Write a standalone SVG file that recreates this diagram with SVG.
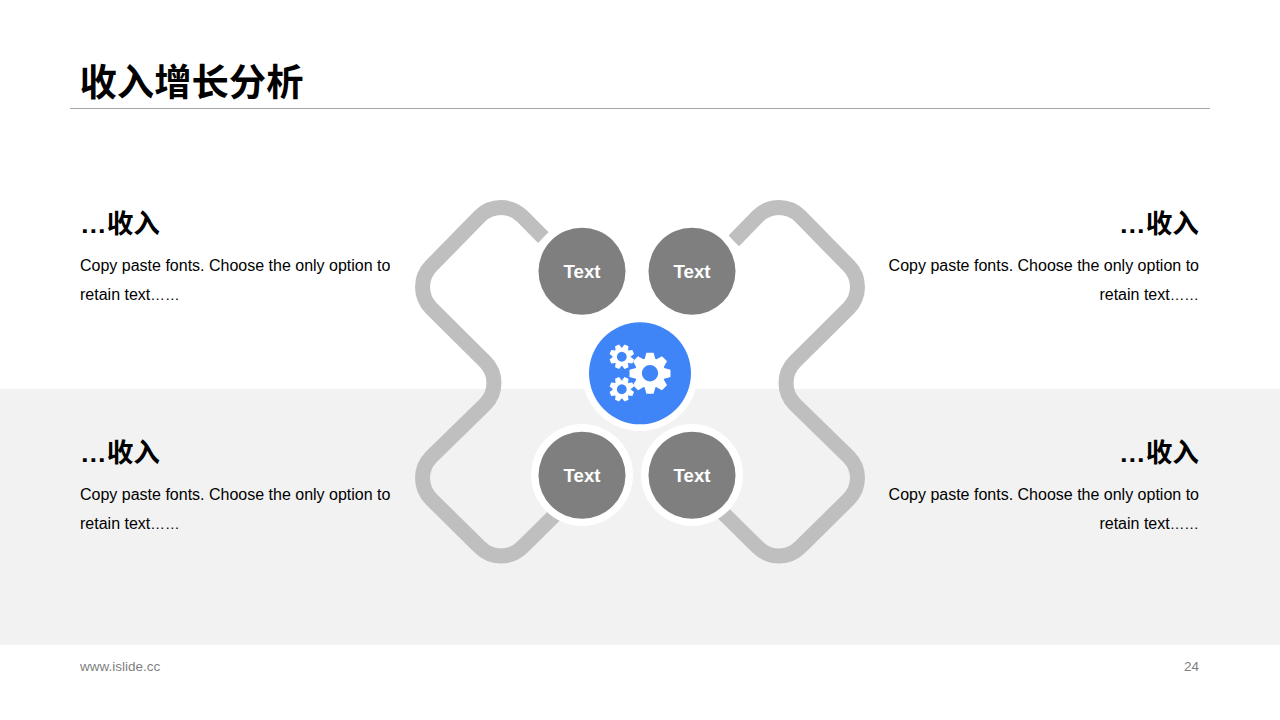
<svg xmlns="http://www.w3.org/2000/svg" xmlns:xlink="http://www.w3.org/1999/xlink" width="1280" height="720" viewBox="0 0 1280 720">
<style>
text{font-family:"Liberation Sans",Arial,sans-serif}
.title{font-family:"Noto Sans CJK SC",sans-serif;font-weight:700;font-size:37.33px;fill:#000}
.head{font-family:"Noto Sans CJK SC",sans-serif;font-weight:700;font-size:26.67px;fill:#000}
.dots{font-family:"Liberation Sans",Arial,sans-serif}
.body{font-size:16px;fill:#000}
.el{font-size:14.67px}
.foot{font-size:13.5px;fill:#7f7f7f}
.r{text-anchor:end}
.link{fill:none;stroke:#bfbfbf;stroke-width:15}
.ring{fill:#fff}
.disc{fill:#7f7f7f}
.lab{font-size:18.67px;font-weight:700;fill:#fff;text-anchor:middle}
.tooth{fill:#fff}
</style>
<defs>
<path id="tooth" class="tooth" d="M-5.4,-14 L-3.6,-20.5 H3.6 L5.4,-14Z"/>
<g id="gear">
<circle r="11.7" fill="none" stroke="#fff" stroke-width="7"/>
<use xlink:href="#tooth" href="#tooth"/>
<use xlink:href="#tooth" href="#tooth" transform="rotate(45)"/>
<use xlink:href="#tooth" href="#tooth" transform="rotate(90)"/>
<use xlink:href="#tooth" href="#tooth" transform="rotate(135)"/>
<use xlink:href="#tooth" href="#tooth" transform="rotate(180)"/>
<use xlink:href="#tooth" href="#tooth" transform="rotate(225)"/>
<use xlink:href="#tooth" href="#tooth" transform="rotate(270)"/>
<use xlink:href="#tooth" href="#tooth" transform="rotate(315)"/>
</g>
</defs>
<rect width="1280" height="720" fill="#fff"/>
<rect x="0" y="389" width="1280" height="256" fill="#f2f2f2"/>
<text class="title" x="79.5" y="95.5">收入增长分析</text>
<rect x="70" y="108" width="1140" height="1" fill="#a6a6a6"/>
<g id="connectors">
<path id="link-left" class="link" d="M543.4,237.6 L522.2,216.3 A30,30 0 0 0 479.8,216.3 L431.3,265.8 A30,30 0 0 0 431.3,308.2 L485.2,361.8 A30,30 0 0 1 485.2,404.2 L431.3,456.8 A30,30 0 0 0 431.3,499.2 L479.8,547.2 A30,30 0 0 0 522.2,547.2 L560,510"/>
<path id="link-right" class="link" d="M733.7,241 L757.8,216.3 A30,30 0 0 1 800.2,216.3 L848.7,265.8 A30,30 0 0 1 848.7,308.2 L794.8,361.8 A30,30 0 0 0 794.8,404.2 L848.7,456.8 A30,30 0 0 1 848.7,499.2 L800.2,547.2 A30,30 0 0 1 757.8,547.2 L720,510"/>
</g>
<g id="node-top-left"><circle class="ring" cx="582" cy="271" r="51"/><circle class="disc" cx="582" cy="271.3" r="43.5"/><text class="lab" x="582" y="278">Text</text></g>
<g id="node-top-right"><circle class="ring" cx="692" cy="271" r="51"/><circle class="disc" cx="692" cy="271.3" r="43.5"/><text class="lab" x="692" y="278">Text</text></g>
<g id="node-bottom-left"><circle class="ring" cx="582" cy="475" r="51"/><circle class="disc" cx="582" cy="475.3" r="43.5"/><text class="lab" x="582" y="482">Text</text></g>
<g id="node-bottom-right"><circle class="ring" cx="692" cy="475" r="51"/><circle class="disc" cx="692" cy="475.3" r="43.5"/><text class="lab" x="692" y="482">Text</text></g>
<g id="node-center">
<circle class="ring" cx="640" cy="373" r="58"/>
<circle cx="640" cy="373.3" r="51" fill="#3f85f7"/>
<use xlink:href="#gear" href="#gear" transform="translate(650,373.3)"/>
<use xlink:href="#gear" href="#gear" transform="translate(621.8,356.8) rotate(22.5) scale(.6)"/>
<use xlink:href="#gear" href="#gear" transform="translate(621.8,389.3) rotate(22.5) scale(.6)"/>
</g>
<g id="block-top-left"><text class="head" x="80" y="233"><tspan class="dots">…</tspan>收入</text><text class="body" x="80" y="271">Copy paste fonts. Choose the only option to</text><text class="body" x="80" y="300">retain text<tspan class="el">……</tspan></text></g>
<g id="block-top-right"><text class="head r" x="1199" y="233"><tspan class="dots">…</tspan>收入</text><text class="body r" x="1199" y="271">Copy paste fonts. Choose the only option to</text><text class="body r" x="1199" y="300">retain text<tspan class="el">……</tspan></text></g>
<g id="block-bottom-left"><text class="head" x="80" y="462"><tspan class="dots">…</tspan>收入</text><text class="body" x="80" y="500">Copy paste fonts. Choose the only option to</text><text class="body" x="80" y="529">retain text<tspan class="el">……</tspan></text></g>
<g id="block-bottom-right"><text class="head r" x="1199" y="462"><tspan class="dots">…</tspan>收入</text><text class="body r" x="1199" y="500">Copy paste fonts. Choose the only option to</text><text class="body r" x="1199" y="529">retain text<tspan class="el">……</tspan></text></g>
<text class="foot" x="80" y="670.5">www.islide.cc</text>
<text class="foot r" x="1199" y="670.5">24</text>
</svg>
